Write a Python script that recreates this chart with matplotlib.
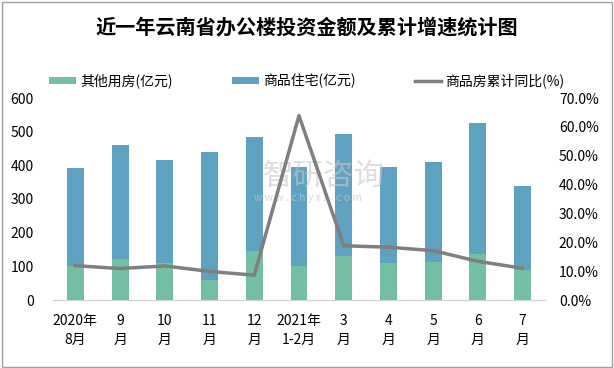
import numpy as np
import matplotlib.pyplot as plt
from matplotlib.ticker import FuncFormatter

plt.rcParams['font.family'] = ['Noto Sans CJK SC', 'DejaVu Sans']

months = ['2020年\n8月', '9\n月', '10\n月', '11\n月', '12\n月', '2021年\n1-2月',
          '3\n月', '4\n月', '5\n月', '6\n月', '7\n月']
other = [102, 121, 110, 59, 145, 101, 131, 110, 113, 137, 89]
total = [391, 459, 416, 440, 484, 394, 493, 394, 410, 526, 339]
housing = [t - o for t, o in zip(total, other)]
growth = [11.9, 10.9, 11.8, 9.9, 8.6, 63.9, 18.8, 18.3, 17.1, 13.4, 11.0]

green = '#74BEA4'
blue = '#5FA1C1'
grey = '#7F7F7F'

fig = plt.figure(figsize=(6.14, 3.68), dpi=100)
ax = fig.add_axes([53 / 614, 68 / 368, 492 / 614, 202 / 368])
ax2 = ax.twinx()

x = np.arange(len(months))
b1 = ax.bar(x, other, width=0.38, color=green, label='其他用房(亿元)')
b2 = ax.bar(x, housing, width=0.38, bottom=other, color=blue, label='商品住宅(亿元)')
l1, = ax2.plot(x, growth, color=grey, lw=2.5, label='商品房累计同比(%)')

ax.set_xlim(-0.5, len(months) - 0.5)
ax.set_ylim(0, 600)
ax.set_yticks(range(0, 601, 100))
ax2.set_ylim(0, 70)
ax2.set_yticks(range(0, 71, 10))
ax2.yaxis.set_major_formatter(FuncFormatter(lambda v, p: '%.1f%%' % v))

ax.set_xticks(x)
ax.set_xticklabels(months, fontsize=10, linespacing=1.45)
for a in (ax, ax2):
    for s in a.spines.values():
        s.set_visible(False)
    a.tick_params(length=0, labelsize=10)
ax.spines['bottom'].set_visible(True)
ax.spines['bottom'].set_color('#D0D0D0')
ax.tick_params(axis='y', pad=14)
ax2.tick_params(axis='y', pad=10)
ax.tick_params(axis='x', pad=10)

leg = fig.legend([b1, b2, l1], [b1.get_label(), b2.get_label(), l1.get_label()],
                 loc='center', bbox_to_anchor=(0.5, 1 - 81 / 368), ncol=3, frameon=False,
                 fontsize=10, handlelength=1.9, handleheight=0.45, handletextpad=0.3,
                 columnspacing=4.3)

fig.text(0.5, 1 - 27 / 368, '近一年云南省办公楼投资金额及累计增速统计图',
         ha='center', va='center', fontsize=14.5, fontweight='bold')

# watermark (above bars, below the line)
ax.text(0.527, 1 - 176 / 368, '智研咨询', ha='center', va='center', transform=fig.transFigure,
        fontsize=22, color='#C8C8C8', alpha=0.6, zorder=5)
ax.text(0.502, 1 - 198 / 368, 'w w w . c h y x x . c o m', ha='center', va='center',
        transform=fig.transFigure, fontsize=7.5, color='#C8C8C8', alpha=0.7, zorder=5)

fig.patches.append(plt.Rectangle((0.003, 0.004), 0.994, 0.99, transform=fig.transFigure,
                                 fill=False, edgecolor='#A0A0A0', lw=1))

fig.savefig('out.png', dpi=100)
